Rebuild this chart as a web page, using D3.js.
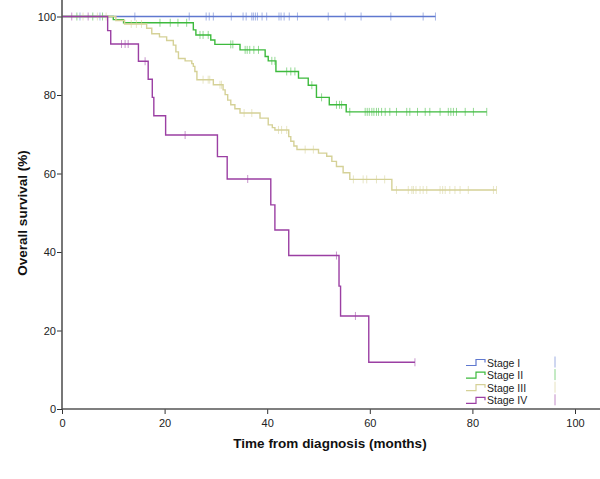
<!DOCTYPE html>
<html>
<head>
<meta charset="utf-8">
<script src="https://cdn.jsdelivr.net/npm/d3@7"></script>
<style>
html,body{margin:0;padding:0;background:#fff;}
svg{display:block;font-family:"Liberation Sans",Arial,sans-serif;}
</style>
</head>
<body>
<svg id="chart" width="600" height="479"></svg>
<script>
// ---- data ----
const stages = ["Stage I", "Stage II", "Stage III", "Stage IV"];
const colors = ["#5f78cf", "#3dba3d", "#d5d197", "#9b3fa3"];

// events: [time (months), survival after the drop (%)]
const eventsI = [];
const eventsII = [[10.0, 99.2], [12.0, 98.4], [25.6, 96.6], [26.1, 95.3], [29.0, 94.0], [29.8, 92.9],
  [34.7, 91.5], [39.6, 89.8], [40.2, 88.7], [41.7, 86.0], [46.1, 84.3], [48.0, 82.5],
  [49.6, 79.4], [52.1, 77.5], [55.4, 75.7]];
const eventsIII = [[10.5, 99.0], [12.2, 98.1], [16.5, 97.0], [17.5, 95.6], [19.0, 94.8], [20.4, 93.9],
  [21.7, 92.7], [22.2, 91.0], [22.7, 89.3], [24.0, 88.7], [25.3, 88.0], [25.6, 87.3],
  [25.9, 86.0], [26.3, 83.9], [29.5, 82.6], [31.4, 81.3], [31.8, 80.1], [32.3, 78.7],
  [32.9, 77.5], [33.7, 76.5], [34.7, 75.4], [38.6, 74.1], [40.2, 72.4], [41.0, 71.7],
  [41.5, 71.1], [44.2, 69.4], [44.6, 68.2], [45.2, 67.0], [45.8, 66.1], [50.0, 65.2],
  [51.6, 64.4], [52.6, 63.1], [53.5, 61.8], [54.8, 60.2], [56.1, 58.5], [64.3, 55.8]];
const eventsIV = [[8.9, 96.4], [9.5, 93.0], [14.9, 88.6], [16.8, 84.0], [17.6, 79.4], [17.9, 74.7],
  [20.2, 69.8], [30.3, 64.3], [32.2, 58.6], [40.7, 52.0], [41.5, 45.6], [44.2, 39.1],
  [54.0, 31.3], [54.3, 23.7], [59.8, 11.9]];

// censored times (months)
const censorI = [3.5, 7.4, 14.2, 24.8, 28.1, 28.7, 29.5, 33.0, 35.3, 35.9, 37.0, 37.3, 37.7, 38.1,
  39.0, 39.9, 42.3, 42.7, 43.3, 44.3, 45.9, 51.9, 55.2, 58.3, 64.1, 70.4, 72.8];
const censorII = [2.9, 6.0, 7.9, 19.1, 21.1, 22.6, 24.3, 26.9, 27.5, 28.5, 32.9, 33.3, 35.7, 36.1,
  36.6, 37.4, 38.3, 40.9, 41.5, 43.8, 44.6, 45.4, 48.7, 50.6, 53.5, 54.1, 54.5, 56.1, 59.1,
  59.5, 59.9, 60.4, 60.8, 61.3, 61.7, 62.3, 63.0, 63.9, 65.2, 67.2, 67.8, 69.3, 70.8, 71.7,
  73.7, 75.3, 75.8, 76.3, 76.9, 78.6, 80.2, 82.8];
const censorIII = [4.1, 6.9, 8.6, 13.5, 14.5, 15.5, 27.5, 28.5, 28.8, 30.8, 31.1, 35.5, 37.0,
  42.2, 42.8, 43.8, 47.4, 49.0, 56.8, 58.7, 59.4, 61.3, 62.9, 65.2, 67.5, 68.2, 68.5, 69.0,
  69.8, 70.4, 71.1, 73.7, 74.2, 74.7, 75.6, 76.6, 77.6, 79.2, 84.1, 84.7];
const censorIV = [1.9, 5.1, 11.6, 12.3, 12.9, 16.2, 24.0, 36.2, 53.5, 57.2, 68.8];

const endTimes = [72.8, 82.8, 84.7, 68.8];
const xTicks = [0, 20, 40, 60, 80, 100];
const yTicks = [0, 20, 40, 60, 80, 100];

const allEvents = [eventsI, eventsII, eventsIII, eventsIV];
const allCensors = [censorI, censorII, censorIII, censorIV];

// ---- drawing ----
const svg = d3.select("#chart");
const x = d3.scaleLinear().domain([0, 100]).range([62, 575]);
const y = d3.scaleLinear().domain([0, 100]).range([409, 16.5]);

function survAt(events, t) {
  let s = 100;
  for (const [et, es] of events) { if (et <= t) s = es; }
  return s;
}
function stepPath(events, end) {
  let p = d3.path();
  p.moveTo(x(0), y(100));
  for (const [et, es] of events) {
    p.lineTo(x(et), y(survAt(events, et - 1e-9)));
    p.lineTo(x(et), y(es));
  }
  p.lineTo(x(end), y(events.length ? events[events.length - 1][1] : 100));
  return p.toString();
}

const plot = svg.append("g");
stages.forEach((name, i) => {
  const g = plot.append("g");
  g.append("path")
    .attr("d", stepPath(allEvents[i], endTimes[i]))
    .attr("fill", "none")
    .attr("stroke", colors[i])
    .attr("stroke-width", 1.4);
  g.selectAll("line.c").data(allCensors[i]).enter().append("line")
    .attr("x1", d => x(d)).attr("x2", d => x(d))
    .attr("y1", d => y(survAt(allEvents[i], d)) - 4)
    .attr("y2", d => y(survAt(allEvents[i], d)) + 4)
    .attr("stroke", colors[i])
    .attr("stroke-opacity", 0.55)
    .attr("stroke-width", 1);
});

// axes
const axisColor = "#555";
const xAxis = svg.append("g").attr("transform", "translate(0,409)")
  .call(d3.axisBottom(x).tickValues(xTicks).tickSize(5).tickSizeOuter(0));
xAxis.select(".domain").remove();
xAxis.append("line").attr("x1", 62).attr("x2", 600).attr("y1", 0).attr("y2", 0)
  .attr("stroke", axisColor).attr("stroke-width", 1.6);
xAxis.selectAll(".tick line").attr("stroke", "#333");
xAxis.selectAll(".tick text").attr("font-size", 11).attr("fill", "#222")
  .attr("font-family", "Liberation Sans, Arial, sans-serif").attr("dy", "0.9em");

const yAxis = svg.append("g").attr("transform", "translate(62,0)")
  .call(d3.axisLeft(y).tickValues(yTicks).tickSize(5).tickSizeOuter(0));
yAxis.select(".domain").remove();
yAxis.append("line").attr("x1", 0).attr("x2", 0).attr("y1", 0).attr("y2", 409)
  .attr("stroke", axisColor).attr("stroke-width", 1.6);
yAxis.selectAll(".tick line").attr("stroke", "#333");
yAxis.selectAll(".tick text").attr("font-size", 11).attr("fill", "#222")
  .attr("font-family", "Liberation Sans, Arial, sans-serif").attr("x", -6);

// titles
svg.append("text").attr("x", 330).attr("y", 448).attr("text-anchor", "middle")
  .attr("font-size", 13.5).attr("font-weight", "bold").attr("fill", "#111")
  .text("Time from diagnosis (months)");
svg.append("text").attr("transform", "translate(27,213) rotate(-90)").attr("text-anchor", "middle")
  .attr("font-size", 13.5).attr("font-weight", "bold").attr("fill", "#111")
  .text("Overall survival (%)");

// legend
const legend = svg.append("g");
stages.forEach((name, i) => {
  const ly = 362.5 + i * 12.6;
  legend.append("path")
    .attr("d", `M466,${ly + 3}H476V${ly - 3}H485V${ly}`)
    .attr("fill", "none").attr("stroke", colors[i]).attr("stroke-width", 1.2);
  legend.append("text").attr("x", 487).attr("y", ly + 4).attr("font-size", 10.5)
    .attr("fill", "#222").text(name);
  legend.append("line").attr("x1", 555).attr("x2", 555).attr("y1", ly - 6).attr("y2", ly + 5)
    .attr("stroke", colors[i]).attr("stroke-opacity", 0.6).attr("stroke-width", 1);
});
</script>
</body>
</html>
